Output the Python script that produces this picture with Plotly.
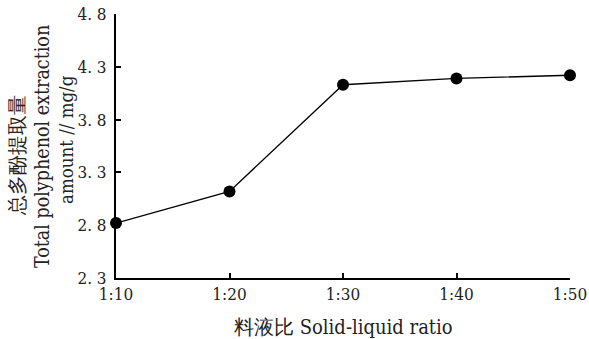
import plotly.graph_objects as go

ratios = ["1:10", "1:20", "1:30", "1:40", "1:50"]
polyphenol = [2.82, 3.12, 4.13, 4.19, 4.22]
y_ticks = [2.3, 2.8, 3.3, 3.8, 4.3, 4.8]
y_ticktext = ["2. 3", "2. 8", "3. 3", "3. 8", "4. 3", "4. 8"]

FONT = "DejaVu Serif Condensed, DejaVu Serif"
TFONT = "DejaVu Serif Condensed, DejaVu Serif"

xpos = list(range(len(ratios)))

fig = go.Figure()
fig.add_trace(go.Scatter(
    x=xpos, y=polyphenol, mode="lines+markers",
    line=dict(color="black", width=1.3),
    marker=dict(color="black", size=12),
    showlegend=False, cliponaxis=False,
))

fig.update_layout(
    width=589, height=339,
    margin=dict(l=116, r=19, t=14, b=61, autoexpand=False),
    paper_bgcolor="white", plot_bgcolor="white",
    font=dict(family=FONT, size=17, color="#222"),
    xaxis=dict(
        range=[0, 4], tickmode="array", tickvals=xpos, ticktext=ratios,
        showline=True, linecolor="black", linewidth=2, automargin=False,
        ticks="inside", ticklen=5, tickwidth=2, tickcolor="black",
        showgrid=False, zeroline=False, tickfont=dict(family=FONT, size=17),
    ),
    yaxis=dict(
        range=[2.3, 4.8], tickmode="array", tickvals=y_ticks, ticktext=y_ticktext,
        showline=True, linecolor="black", linewidth=2, automargin=False,
        ticks="inside", ticklen=5, tickwidth=2, tickcolor="black",
        showgrid=False, zeroline=False, tickfont=dict(family=FONT, size=17),
        ticklabelstandoff=4,
    ),
)

ytitle = [("总多酚提取量", 17, 156, 20), ("Total polyphenol extraction", 42, 147, 19.5),
          ("amount // mg/g", 66, 140, 18.5)]
for txt, px, py, fs in ytitle:
    fig.add_annotation(
        text=txt, textangle=-90, showarrow=False,
        xref="paper", yref="paper", x=0, y=(278 - py) / 264,
        xanchor="center", yanchor="middle", xshift=px - 116,
        font=dict(family=TFONT, size=fs, color="#222"),
    )

fig.add_annotation(
    text="料液比 Solid-liquid ratio", showarrow=False,
    xref="paper", yref="paper", x=(343 - 116) / 454, y=0,
    xanchor="center", yanchor="middle", yshift=-(327 - 278),
    font=dict(family=TFONT, size=20, color="#222"),
)

fig.write_html("out.html")
